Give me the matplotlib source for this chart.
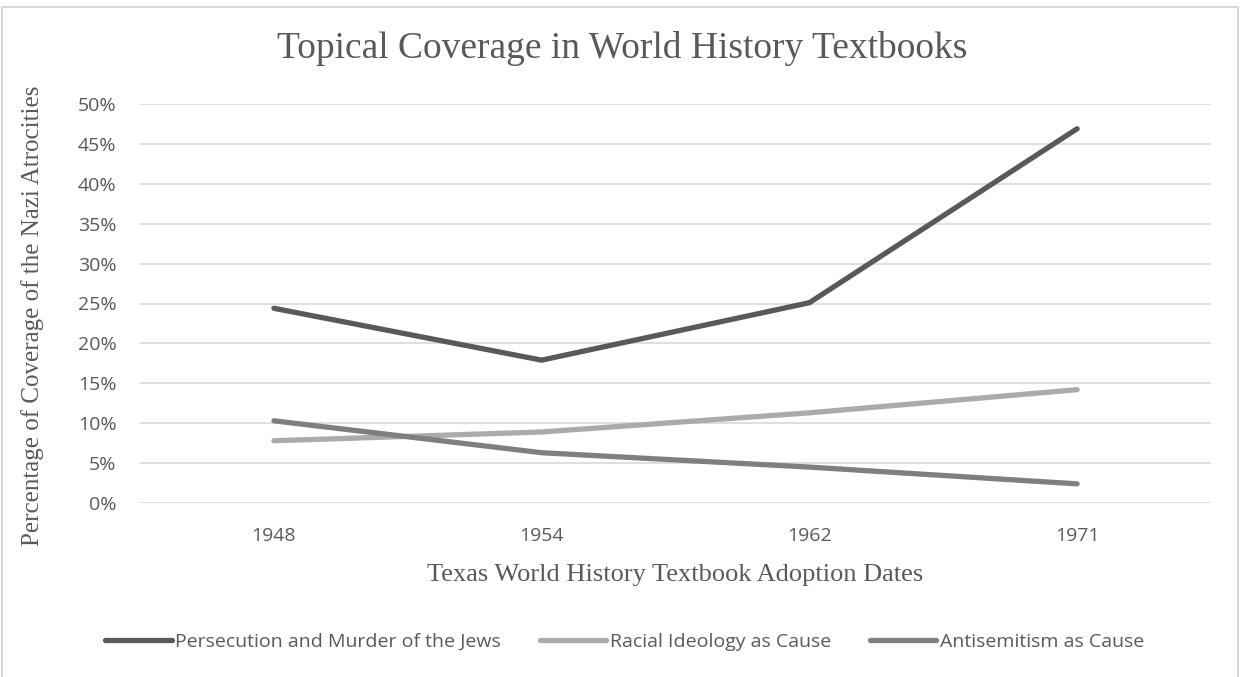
import matplotlib.pyplot as plt
from matplotlib.patches import Rectangle
from matplotlib.ticker import FuncFormatter

years = ['1948', '1954', '1962', '1971']
persecution = [24.4, 17.9, 25.1, 46.9]
racial = [7.8, 8.9, 11.3, 14.2]
antisemitism = [10.3, 6.3, 4.5, 2.4]

series = [
    ('Persecution and Murder of the Jews', persecution, '#595959'),
    ('Racial Ideology as Cause', racial, '#ababab'),
    ('Antisemitism as Cause', antisemitism, '#7f7f7f'),
]

fig = plt.figure(figsize=(12.41, 6.77), dpi=100)
ax = fig.add_axes([140 / 1241, 1 - 503 / 677, 1071 / 1241, 399 / 677])

x = range(len(years))
for name, vals, color in series:
    ax.plot(x, vals, color=color, lw=3.8, solid_capstyle='round',
            solid_joinstyle='round', label=name)

ax.set_xlim(-0.5, len(years) - 0.5)
ax.set_ylim(0, 50)
ax.set_yticks(range(0, 51, 5))
ax.yaxis.set_major_formatter(FuncFormatter(lambda v, p: '%d%%' % v))
ax.set_xticks(list(x))
ax.set_xticklabels(years)
ax.grid(axis='y', color='#d9d9d9', lw=1.2)
ax.set_axisbelow(True)
for s in ax.spines.values():
    s.set_visible(False)
ax.tick_params(length=0, labelsize=14, labelcolor='#595959')
ax.tick_params(axis='y', pad=17)
ax.tick_params(axis='x', pad=17)
for lab in ax.get_xticklabels() + ax.get_yticklabels():
    lab.set_family('Open Sans')

serif = 'Liberation Serif'
fig.text(622 / 1241, 1 - 48 / 677, 'Topical Coverage in World History Textbooks',
         ha='center', va='center', family=serif, fontsize=27, color='#595959')
fig.text(675 / 1241, 1 - 575 / 677, 'Texas World History Textbook Adoption Dates',
         ha='center', va='center', family=serif, fontsize=19, color='#595959')
fig.text(33 / 1241, 1 - 316 / 677, 'Percentage of Coverage of the Nazi Atrocities',
         ha='center', va='center', rotation=90, family=serif, fontsize=18,
         color='#595959')

leg = fig.legend(loc='center', bbox_to_anchor=(625 / 1241, 1 - 642 / 677),
                 ncol=3, frameon=False, handlelength=3.4, handletextpad=0.2,
                 columnspacing=2.0, prop={'family': 'Open Sans', 'size': 14})
for t in leg.get_texts():
    t.set_color('#595959')

fig.patches.append(Rectangle((2 / 1241, -0.05), 1236 / 1241, 1.05 - 7 / 677,
                             transform=fig.transFigure, fill=False,
                             edgecolor='#d9d9d9', lw=1.5))

fig.savefig('out.png', dpi=100)
